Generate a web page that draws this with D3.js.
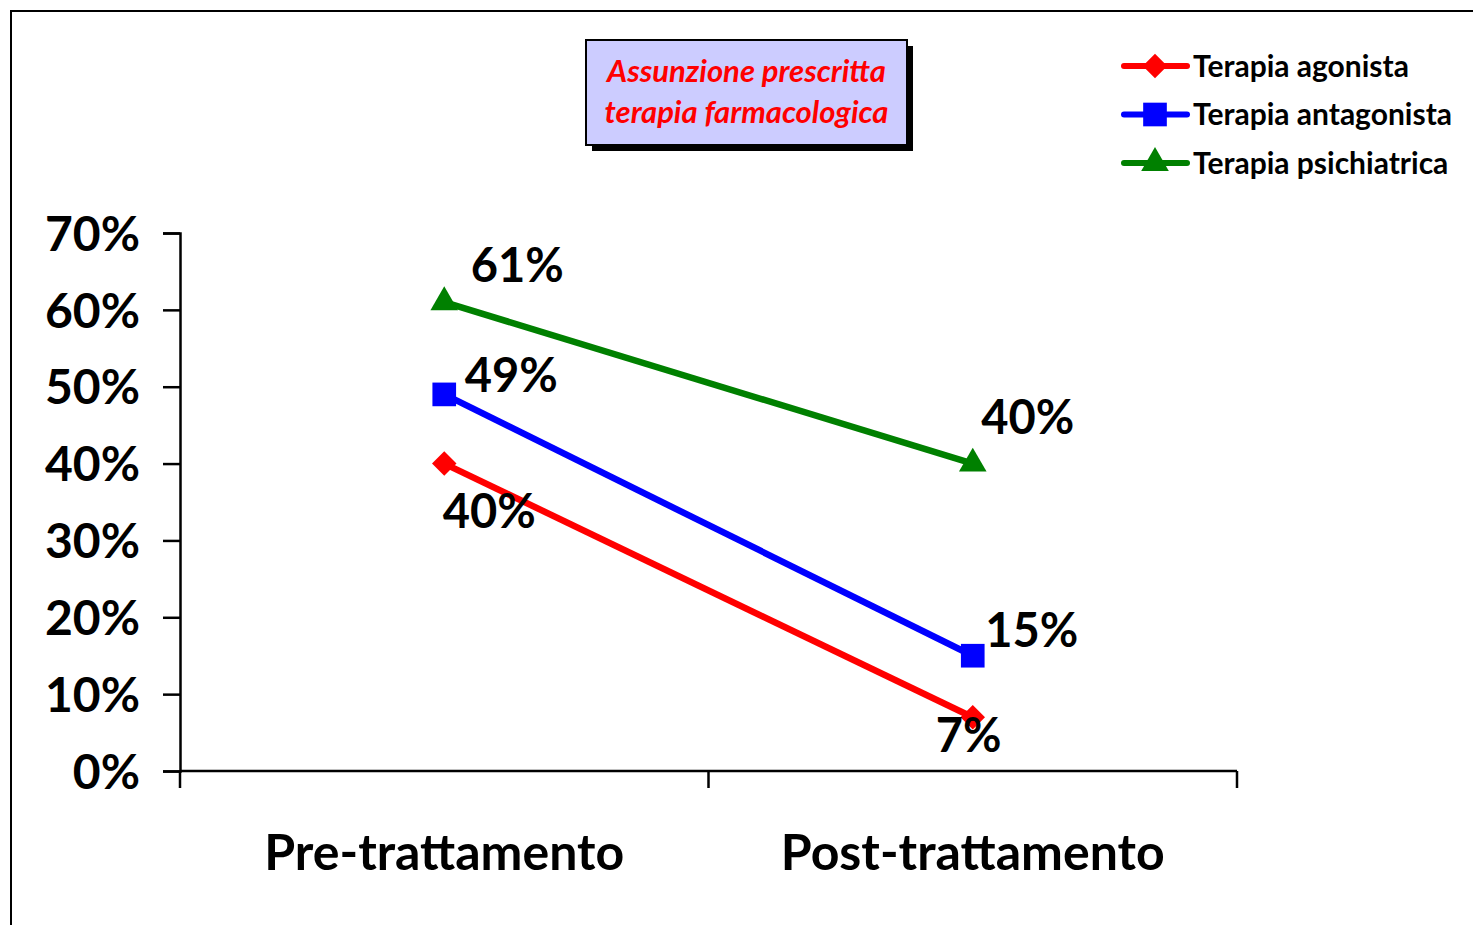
<!DOCTYPE html>
<html>
<head>
<meta charset="utf-8">
<script src="https://cdn.jsdelivr.net/npm/d3@7"></script>
<style>
  html, body { margin: 0; padding: 0; background: #fff; }
  svg { display: block; font-family: Lato, "Open Sans", sans-serif; }
</style>
</head>
<body>
<svg id="chart" width="1473" height="925"></svg>
<script>
// Categories and series
const categories = ["Pre-trattamento", "Post-trattamento"];
const seriesNames = ["Terapia agonista", "Terapia antagonista", "Terapia psichiatrica"];
const agonista = [40, 7];
const antagonista = [49, 15];
const psichiatrica = [61, 40];
const yTicks = [0, 10, 20, 30, 40, 50, 60, 70];
const titleLines = ["Assunzione prescritta", "terapia farmacologica"];

const seriesColors = ["#ff0000", "#0000ff", "#008000"];
const seriesValues = [agonista, antagonista, psichiatrica];

// rotated square for the diamond marker
const diamond = {
  draw(ctx, size) {
    const r = Math.sqrt(size / 2);
    ctx.moveTo(0, -r); ctx.lineTo(r, 0); ctx.lineTo(0, r); ctx.lineTo(-r, 0); ctx.closePath();
  }
};
const seriesSymbols = [diamond, d3.symbolSquare, d3.symbolTriangle];
const markerSizes = [300, 560, 330];

// label offsets (px) from each point, per series and category
const labelOffsets = [
  [[45, 48], [-4, 18]],
  [[67, -19], [59, -26]],
  [[73, -37], [55, -46]]
];

const svg = d3.select("#chart");

// outer frame running off the right and bottom edges
svg.append("rect")
  .attr("x", 11).attr("y", 11)
  .attr("width", 1600).attr("height", 1000)
  .attr("fill", "none").attr("stroke", "#000").attr("stroke-width", 2);

const plot = { left: 180, right: 1237, top: 233, bottom: 771 };

const x = d3.scaleBand().domain(categories).range([plot.left, plot.right]);
const y = d3.scaleLinear().domain([0, 70]).range([plot.bottom, plot.top]);

// Y axis
const yAxis = svg.append("g")
  .attr("transform", `translate(${plot.left},0)`)
  .call(d3.axisLeft(y).tickValues(yTicks).tickFormat(d => d + "%").tickSize(17).tickPadding(23));
yAxis.select(".domain").attr("stroke", "#000").attr("stroke-width", 2.5);
yAxis.selectAll(".tick line").attr("stroke", "#000").attr("stroke-width", 2.5);
yAxis.selectAll(".tick text")
  .attr("font-size", 48).attr("font-weight", 700).attr("fill", "#000")
  .attr("font-family", "Lato, sans-serif").attr("dy", "0.36em");

// X axis with tick marks on band boundaries
const xAxisG = svg.append("g").attr("transform", `translate(0,${plot.bottom})`);
xAxisG.append("line")
  .attr("x1", plot.left).attr("x2", plot.right)
  .attr("stroke", "#000").attr("stroke-width", 2.5);
const bounds = [plot.left].concat(categories.map(c => x(c) + x.bandwidth()));
xAxisG.selectAll("line.tk").data(bounds).join("line")
  .attr("class", "tk")
  .attr("x1", d => d).attr("x2", d => d)
  .attr("y1", 0).attr("y2", 17)
  .attr("stroke", "#000").attr("stroke-width", 2.5);
xAxisG.selectAll("text").data(categories).join("text")
  .attr("x", d => x(d) + x.bandwidth() / 2)
  .attr("y", 99)
  .attr("text-anchor", "middle")
  .attr("font-size", 50).attr("font-weight", 700).attr("fill", "#000")
  .text(d => d);

// Lines
const line = d3.line()
  .x((d, i) => x(categories[i]) + x.bandwidth() / 2)
  .y(d => y(d));

seriesValues.forEach((vals, s) => {
  svg.append("path")
    .datum(vals)
    .attr("d", line)
    .attr("fill", "none")
    .attr("stroke", seriesColors[s])
    .attr("stroke-width", 6.5);
});

// Markers
seriesValues.forEach((vals, s) => {
  svg.selectAll(null).data(vals).join("path")
    .attr("transform", (d, i) => `translate(${x(categories[i]) + x.bandwidth() / 2},${y(d)})`)
    .attr("d", d3.symbol().type(seriesSymbols[s]).size(markerSizes[s]))
    .attr("fill", seriesColors[s]);
});

// Value labels
seriesValues.forEach((vals, s) => {
  svg.selectAll(null).data(vals).join("text")
    .attr("x", (d, i) => x(categories[i]) + x.bandwidth() / 2 + labelOffsets[s][i][0])
    .attr("y", (d, i) => y(d) + labelOffsets[s][i][1])
    .attr("dy", "0.36em")
    .attr("text-anchor", "middle")
    .attr("font-size", 47).attr("font-weight", 700).attr("fill", "#000")
    .text(d => d + "%");
});

// Title box with drop shadow
const box = { x: 586, y: 40, w: 321, h: 105 };
svg.append("rect")
  .attr("x", box.x + 6).attr("y", box.y + 6)
  .attr("width", box.w).attr("height", box.h)
  .attr("fill", "#000");
svg.append("rect")
  .attr("x", box.x).attr("y", box.y)
  .attr("width", box.w).attr("height", box.h)
  .attr("fill", "#ccccff").attr("stroke", "#000").attr("stroke-width", 2);
svg.selectAll("text.title").data(titleLines).join("text")
  .attr("class", "title")
  .attr("x", box.x + box.w / 2)
  .attr("y", (d, i) => 82 + i * 41)
  .attr("text-anchor", "middle")
  .attr("font-size", 31).attr("font-weight", 700).attr("font-style", "italic")
  .attr("fill", "#ff0000")
  .text(d => d);

// Legend
const legend = svg.append("g");
seriesNames.forEach((name, s) => {
  const ly = 66 + s * 48.5;
  legend.append("line")
    .attr("x1", 1124).attr("x2", 1187)
    .attr("y1", ly).attr("y2", ly)
    .attr("stroke", seriesColors[s]).attr("stroke-width", 6)
    .attr("stroke-linecap", "round");
  legend.append("path")
    .attr("transform", `translate(1155,${ly})`)
    .attr("d", d3.symbol().type(seriesSymbols[s]).size(markerSizes[s]))
    .attr("fill", seriesColors[s]);
  legend.append("text")
    .attr("x", 1193).attr("y", ly)
    .attr("dy", "0.36em")
    .attr("font-size", 30).attr("font-weight", 700).attr("fill", "#000")
    .text(name);
});
</script>
</body>
</html>
